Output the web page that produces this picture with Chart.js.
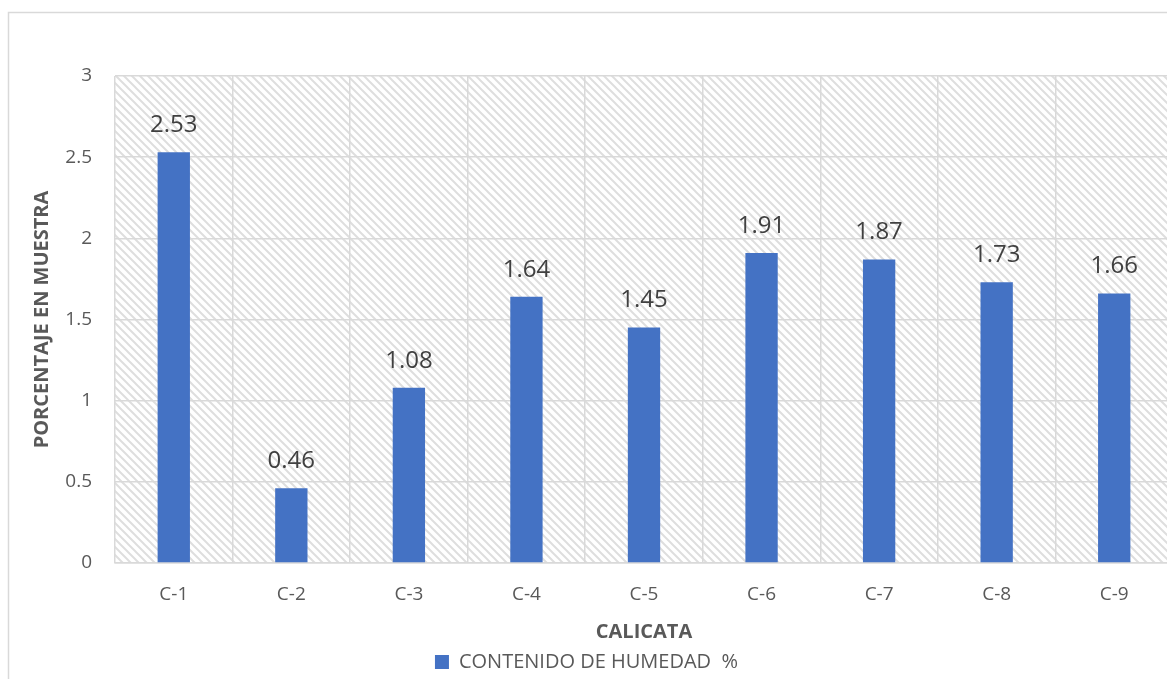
<!DOCTYPE html>
<html>
<head>
<meta charset="utf-8">
<script src="https://cdn.jsdelivr.net/npm/chart.js@4/dist/chart.umd.min.js"></script>
<style>
  html, body { margin: 0; padding: 0; background: #fff; overflow: hidden; }
  #wrap { position: absolute; left: 0; top: 0; width: 1175px; height: 682px; }
</style>
</head>
<body>
<div id="wrap"><canvas id="c" width="1175" height="682"></canvas></div>
<script>
const categories = ['C-1', 'C-2', 'C-3', 'C-4', 'C-5', 'C-6', 'C-7', 'C-8', 'C-9'];
const humedad = [2.53, 0.46, 1.08, 1.64, 1.45, 1.91, 1.87, 1.73, 1.66];
const seriesLabel = 'CONTENIDO DE HUMEDAD  %';
const yTitle = 'PORCENTAJE EN MUESTRA';
const xTitle = 'CALICATA';

const FONT = "'Open Sans', sans-serif";
const GRID = '#d9d9d9';
const TEXT = '#595959';

// diagonal hatch for the plot background
function makeHatch() {
  const s = 8;
  const t = document.createElement('canvas');
  t.width = s; t.height = s;
  const g = t.getContext('2d');
  g.fillStyle = '#ffffff';
  g.fillRect(0, 0, s, s);
  g.strokeStyle = '#dedede';
  g.lineWidth = 2;
  g.beginPath();
  g.moveTo(-2, -2); g.lineTo(s + 2, s + 2);
  g.moveTo(-2, s - 2); g.lineTo(2, s + 2);
  g.moveTo(s - 2, -2); g.lineTo(s + 2, 2);
  g.stroke();
  return t;
}

const plotBackground = {
  id: 'plotBackground',
  beforeDraw(chart) {
    const { ctx, chartArea: a } = chart;
    ctx.save();
    // outer frame
    ctx.strokeStyle = GRID;
    ctx.lineWidth = 1.5;
    ctx.strokeRect(8.5, 12.5, chart.width + 20, chart.height + 20);
    ctx.fillStyle = ctx.createPattern(makeHatch(), 'repeat');
    ctx.fillRect(a.left, a.top, a.right - a.left, a.bottom - a.top);
    ctx.restore();
  }
};

const valueLabels = {
  id: 'valueLabels',
  afterDatasetsDraw(chart) {
    const { ctx } = chart;
    const meta = chart.getDatasetMeta(0);
    ctx.save();
    ctx.font = '24px ' + FONT;
    ctx.fillStyle = '#404040';
    ctx.textAlign = 'center';
    ctx.textBaseline = 'middle';
    meta.data.forEach((bar, i) => {
      ctx.fillText(humedad[i].toFixed(2), bar.x, bar.y - 27);
    });
    ctx.restore();
  }
};

new Chart(document.getElementById('c'), {
  type: 'bar',
  data: {
    labels: categories,
    datasets: [{
      label: seriesLabel,
      data: humedad,
      backgroundColor: '#4472C4',
      borderWidth: 0,
      barPercentage: 0.55,
      categoryPercentage: 0.5
    }]
  },
  options: {
    responsive: false,
    animation: false,
    layout: { padding: { left: 0, top: 76, right: 2, bottom: 0 } },
    scales: {
      x: {
        afterFit(scale) { scale.height = 81; },
        grid: { color: GRID, lineWidth: 1.5, drawTicks: false },
        border: { color: GRID, width: 1.5 },
        ticks: { color: TEXT, font: { family: FONT, size: 19 }, padding: 20 },
        title: { display: true, text: xTitle, color: TEXT, font: { family: FONT, size: 20, weight: 'bold' }, padding: { top: 0, bottom: 0 } }
      },
      y: {
        min: 0, max: 3,
        afterFit(scale) { scale.width = 115; },
        grid: { color: GRID, lineWidth: 1.5, drawTicks: false },
        border: { display: false },
        ticks: {
          stepSize: 0.5, color: TEXT, font: { family: FONT, size: 19 }, padding: 23,
          callback: (v) => String(Number(v))
        },
        title: { display: true, text: yTitle, color: TEXT, font: { family: FONT, size: 20, weight: 'bold' }, padding: { top: 30, bottom: 0 } }
      }
    },
    plugins: {
      legend: {
        position: 'bottom',
        labels: { color: TEXT, font: { family: FONT, size: 20 }, boxWidth: 14, boxHeight: 14, padding: 8 }
      },
      tooltip: { enabled: false }
    }
  },
  plugins: [plotBackground, valueLabels]
});
</script>
</body>
</html>
